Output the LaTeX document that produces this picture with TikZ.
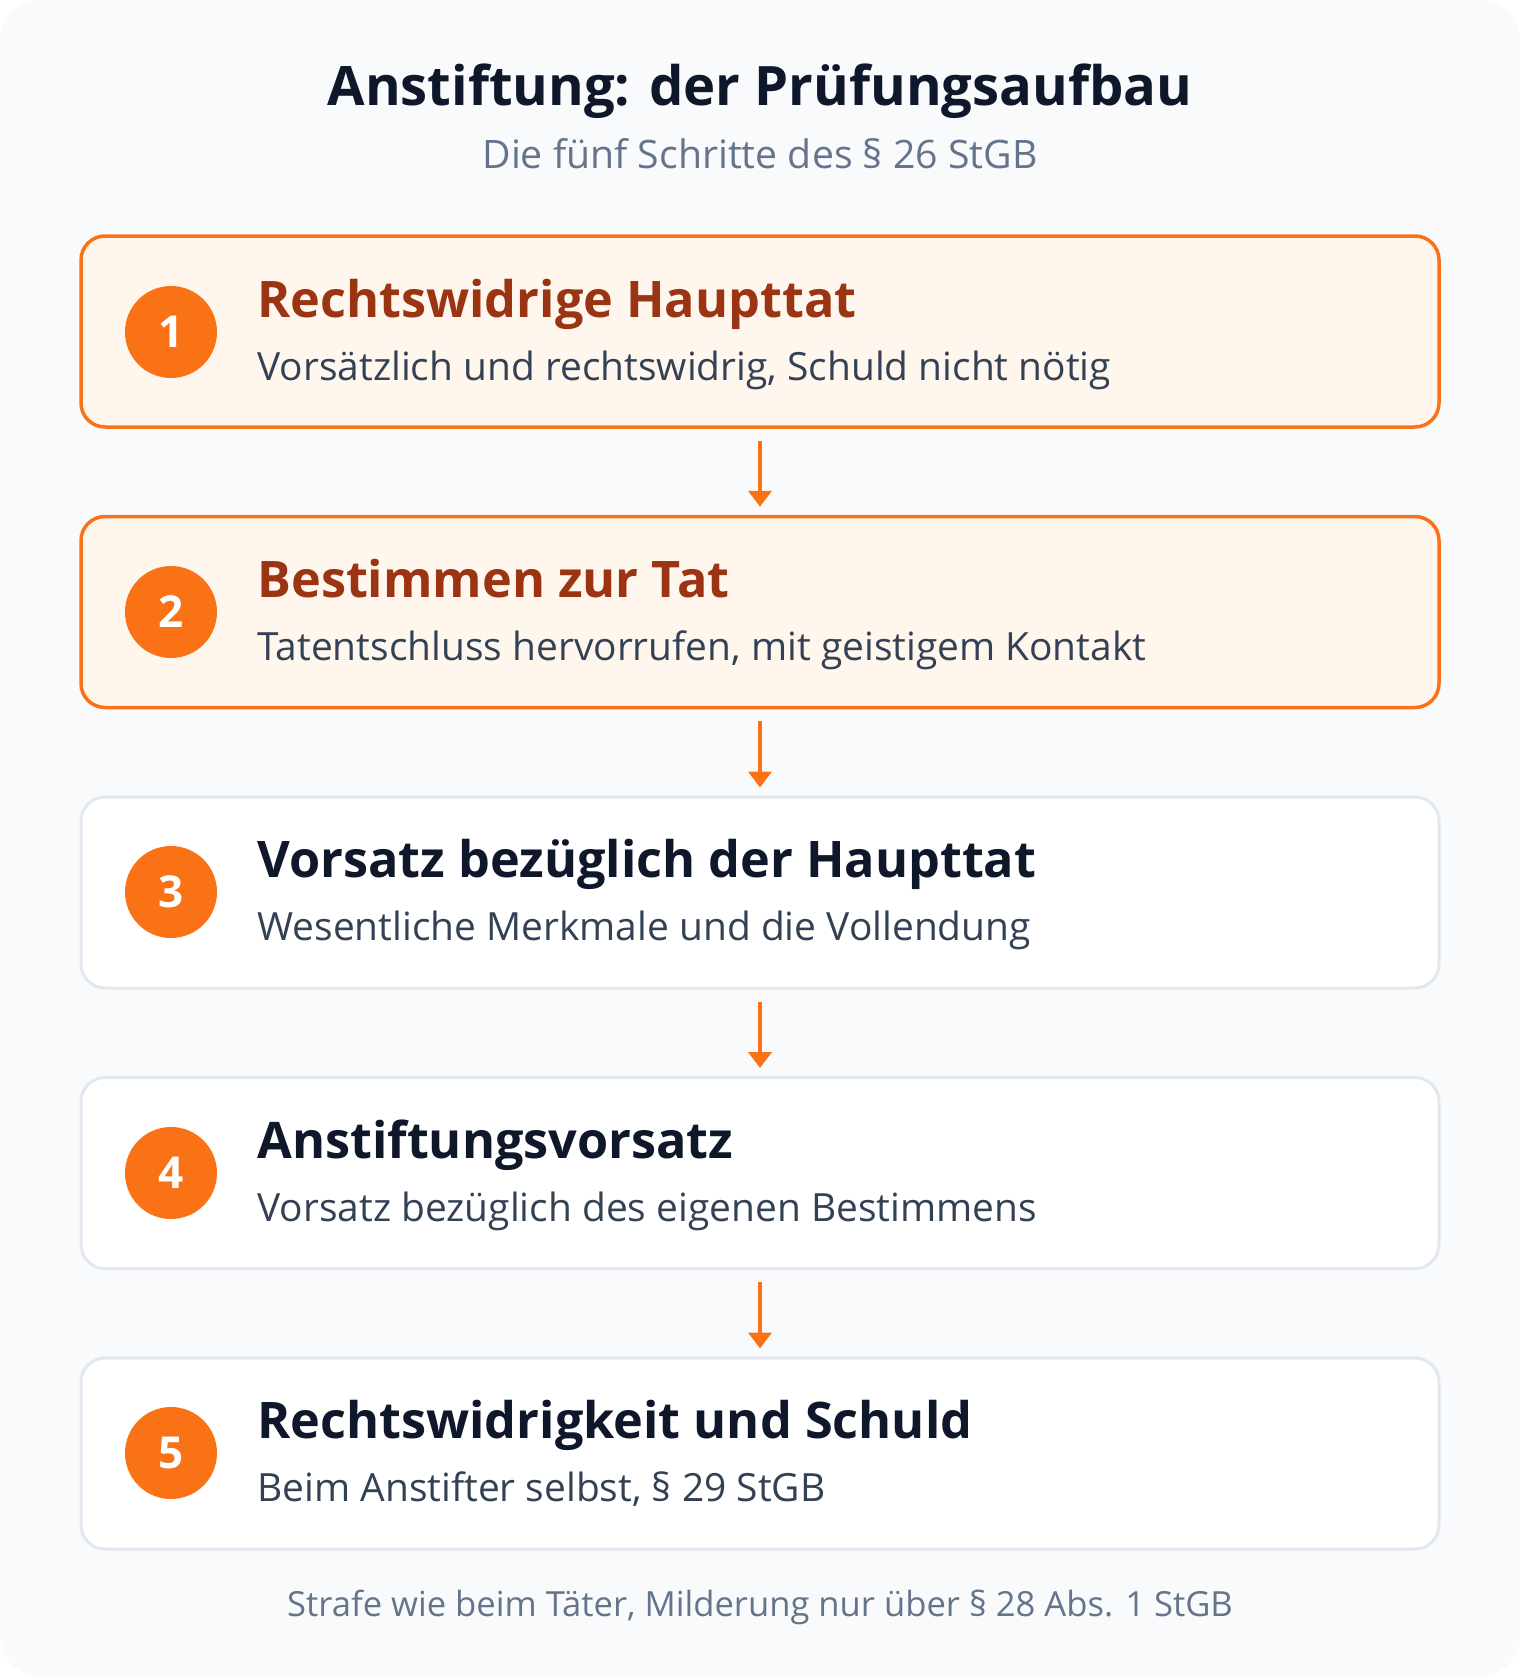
\documentclass[tikz,border=0pt]{standalone}
\usepackage{fontspec}
\setmainfont{Open Sans}
\usetikzlibrary{arrows.meta}

\definecolor{pageBg}{HTML}{F8FAFC}
\definecolor{accent}{HTML}{F97316}
\definecolor{accentBg}{HTML}{FFF7ED}
\definecolor{accentInk}{HTML}{9A3412}
\definecolor{ink}{HTML}{0F172A}
\definecolor{subInk}{HTML}{334155}
\definecolor{muted}{HTML}{64748B}
\definecolor{lineGray}{HTML}{E2E8F0}

\newcommand{\fsize}[1]{\fontsize{#1}{1.2\dimexpr#1pt\relax}\selectfont}

\begin{document}
\begin{tikzpicture}[x=0.5pt, y=-0.5pt, >={Triangle[length=8pt, width=11.5pt]},
	box/.style={draw=lineGray, line width=1.5pt, fill=white, rounded corners=12pt,
		minimum width=679pt, minimum height=95.5pt, inner sep=0pt},
	hot/.style={draw=accent, line width=1.75pt, fill=accentBg},
	badge/.style={circle, fill=accent, minimum size=46pt, inner sep=0pt,
		text=white, font=\fsize{22}\bfseries},
	head/.style={anchor=base west, inner sep=0pt, text=ink, font=\fsize{25.2}\bfseries},
	headhot/.style={head, text=accentInk},
	sub/.style={anchor=base west, inner sep=0pt, text=subInk, font=\fsize{19.45}},
	flow/.style={->, accent, line width=2pt, shorten <=6pt, shorten >=4pt}]

	\useasboundingbox (0, 0) rectangle (1520, 1676);
	\fill[pageBg, rounded corners=20pt] (0, 0) rectangle (1520, 1676);

	% title
	\node[anchor=base, inner sep=0pt, text=ink, font=\fsize{27.2}\bfseries] (title) at (760, 105)
		{Anstiftung: der Prüfungsaufbau};
	\node[anchor=base, inner sep=0pt, text=muted, font=\fsize{19.6}] (subtitle) at (760, 168)
		{Die fünf Schritte des § 26 StGB};

	% steps
	\node[box, hot] (s1) at (760, 331.5) {};
	\node[badge] (n1) at (171, 332) {1};
	\node[headhot] (h1) at (257, 317) {Rechtswidrige Haupttat};
	\node[sub] (t1) at (257, 380) {Vorsätzlich und rechtswidrig, Schuld nicht nötig};

	\node[box, hot] (s2) at (760, 612) {};
	\node[badge] (n2) at (171, 612) {2};
	\node[headhot] (h2) at (257, 597) {Bestimmen zur Tat};
	\node[sub] (t2) at (257, 660) {Tatentschluss hervorrufen, mit geistigem Kontakt};

	\node[box] (s3) at (760, 892.5) {};
	\node[badge] (n3) at (171, 892) {3};
	\node[head] (h3) at (257, 877) {Vorsatz bezüglich der Haupttat};
	\node[sub] (t3) at (257, 940) {Wesentliche Merkmale und die Vollendung};

	\node[box] (s4) at (760, 1173) {};
	\node[badge] (n4) at (171, 1173) {4};
	\node[head] (h4) at (257, 1158) {Anstiftungsvorsatz};
	\node[sub] (t4) at (257, 1221) {Vorsatz bezüglich des eigenen Bestimmens};

	\node[box] (s5) at (760, 1453.5) {};
	\node[badge] (n5) at (171, 1453) {5};
	\node[head] (h5) at (257, 1438) {Rechtswidrigkeit und Schuld};
	\node[sub] (t5) at (257, 1501) {Beim Anstifter selbst, § 29 StGB};

	\draw[flow] (s1.south) -- (s2.north);
	\draw[flow] (s2.south) -- (s3.north);
	\draw[flow] (s3.south) -- (s4.north);
	\draw[flow] (s4.south) -- (s5.north);

	\node[anchor=base, inner sep=0pt, text=muted, font=\fsize{17.3}] (note) at (760, 1616)
		{Strafe wie beim Täter, Milderung nur über § 28 Abs. 1 StGB};
\end{tikzpicture}
\end{document}
